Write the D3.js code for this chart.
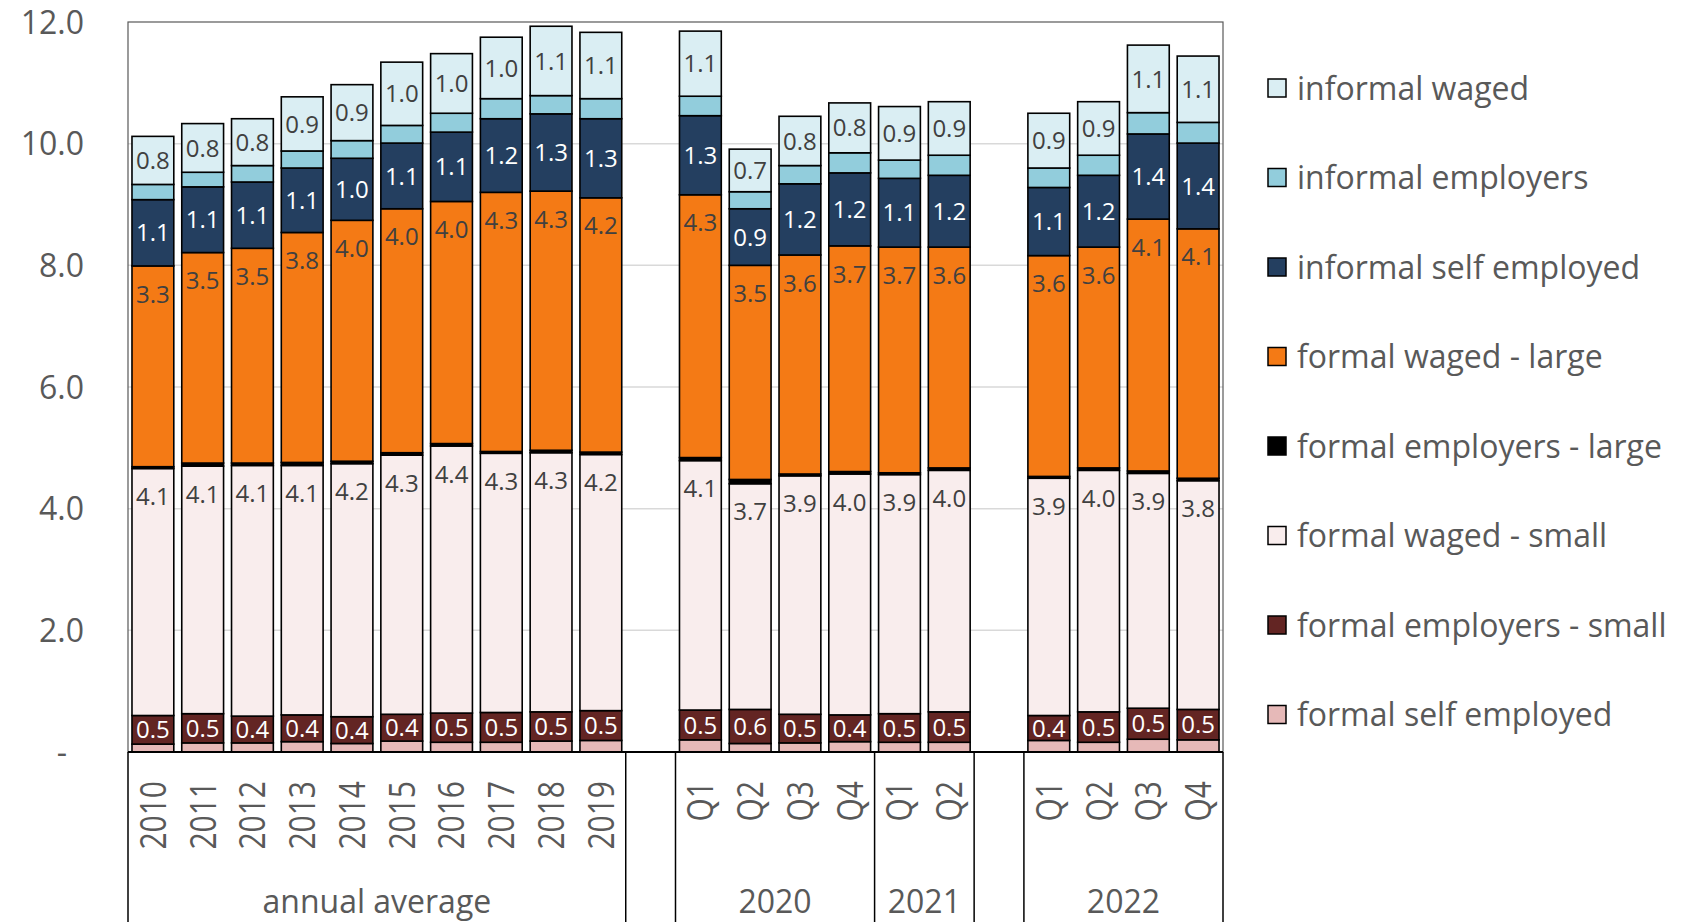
<!DOCTYPE html>
<html>
<head>
<meta charset="utf-8">
<script src="https://cdn.jsdelivr.net/npm/d3@7/dist/d3.min.js"></script>
<style>
  body { margin: 0; background: #fff; }
  svg { display: block; font-family: "Open Sans", sans-serif; }
</style>
</head>
<body>
<svg id="chart" width="1685" height="922"></svg>
<script>
// Category slots along the x axis ("" = spacer slot between groups)
const periods = ["2010","2011","2012","2013","2014","2015","2016","2017","2018","2019","",
                 "Q1","Q2","Q3","Q4","Q1","Q2","",
                 "Q1","Q2","Q3","Q4"];
const groupNames = ["annual average", "", "2020", "2021", "", "2022"];
const groupSizes = [10, 1, 4, 2, 1, 4];

// Series, bottom of the stack first
const seriesNames = ["formal self employed", "formal employers - small", "formal waged - small",
                     "formal employers - large", "formal waged - large", "informal self employed",
                     "informal employers", "informal waged"];
const seriesColors = ["#E6B9B8", "#632523", "#F9EDED", "#000000", "#F47A15", "#243F60", "#92CDDC", "#DAEEF3"];

// Values (millions), null for spacer slots
const formalSelf       = [0.13,0.15,0.15,0.17,0.14,0.18,0.16,0.16,0.18,0.19,null,0.20,0.14,0.15,0.17,0.16,0.16,null,0.19,0.16,0.21,0.20];
const formalEmpSmall   = [0.47,0.48,0.44,0.44,0.44,0.44,0.48,0.49,0.48,0.49,null,0.49,0.56,0.47,0.44,0.47,0.50,null,0.41,0.50,0.51,0.50];
const formalWagedSmall = [4.06,4.07,4.12,4.10,4.16,4.26,4.39,4.26,4.26,4.21,null,4.10,3.71,3.92,3.96,3.93,3.97,null,3.90,3.97,3.86,3.76];
const formalEmpLarge   = [0.03,0.05,0.04,0.05,0.04,0.04,0.04,0.03,0.04,0.04,null,0.05,0.07,0.03,0.04,0.03,0.04,null,0.03,0.04,0.04,0.04];
const formalWagedLarge = [3.30,3.46,3.53,3.78,3.96,4.01,3.98,4.26,4.26,4.18,null,4.32,3.52,3.60,3.71,3.71,3.63,null,3.63,3.63,4.14,4.10];
const informalSelf     = [1.09,1.08,1.09,1.06,1.02,1.08,1.14,1.21,1.27,1.30,null,1.30,0.93,1.17,1.20,1.13,1.18,null,1.12,1.18,1.40,1.41];
const informalEmp      = [0.25,0.24,0.27,0.28,0.29,0.29,0.31,0.33,0.30,0.33,null,0.32,0.28,0.30,0.33,0.30,0.33,null,0.32,0.33,0.35,0.34];
const informalWaged    = [0.79,0.80,0.77,0.89,0.92,1.04,0.98,1.01,1.14,1.09,null,1.07,0.70,0.81,0.82,0.88,0.88,null,0.90,0.88,1.11,1.09];

const yTicks = [0, 2, 4, 6, 8, 10, 12];

const seriesValues = [formalSelf, formalEmpSmall, formalWagedSmall, formalEmpLarge,
                      formalWagedLarge, informalSelf, informalEmp, informalWaged];
// which series carry a value label, and where it sits ("end" = near the top of the segment)
const labelMode = [null, "center", "end", null, "end", "center", null, "center"];
const labelColor = [null, "#FFFFFF", "#404040", null, "#404040", "#FFFFFF", null, "#404040"];

const svg = d3.select("#chart");
const plotLeft = 128, plotRight = 1223, plotTop = 22, plotBottom = 752;

const x = d3.scaleBand()
  .domain(d3.range(periods.length))
  .range([plotLeft, plotRight])
  .paddingInner(0.16)
  .paddingOuter(0.08);

const y = d3.scaleLinear().domain([0, 12]).range([plotBottom, plotTop]);

// rows for the stack layout
const rows = periods.map((p, i) => {
  const r = { idx: i, gap: seriesValues[0][i] === null };
  seriesNames.forEach((s, k) => { r[s] = seriesValues[k][i] || 0; });
  return r;
});
const stacked = d3.stack().keys(seriesNames)(rows);

// gridlines
svg.append("g")
  .selectAll("line")
  .data(yTicks.filter(t => t > 0 && t < 12))
  .join("line")
  .attr("x1", plotLeft).attr("x2", plotRight)
  .attr("y1", d => y(d)).attr("y2", d => y(d))
  .attr("stroke", "#D9D9D9").attr("stroke-width", 1.5);

// plot frame
svg.append("rect")
  .attr("x", plotLeft).attr("y", plotTop)
  .attr("width", plotRight - plotLeft).attr("height", plotBottom - plotTop)
  .attr("fill", "none").attr("stroke", "#595959").attr("stroke-width", 1.2);

// y tick labels
svg.append("g")
  .selectAll("text")
  .data(yTicks)
  .join("text")
  .attr("x", d => d === 0 ? 62 : 84)
  .attr("y", d => y(d))
  .attr("dy", "0.36em")
  .attr("text-anchor", d => d === 0 ? "middle" : "end")
  .attr("font-size", 32)
  .attr("fill", "#595959")
  .text(d => d === 0 ? "-" : d3.format(".1f")(d));

// bars
const layers = svg.append("g")
  .selectAll("g")
  .data(stacked)
  .join("g")
  .attr("fill", (d, k) => seriesColors[k]);

layers.selectAll("rect")
  .data(d => d.filter(s => !s.data.gap))
  .join("rect")
  .attr("x", d => x(d.data.idx))
  .attr("width", x.bandwidth())
  .attr("y", d => y(d[1]))
  .attr("height", d => y(d[0]) - y(d[1]))
  .attr("stroke", "#000")
  .attr("stroke-width", 1.6);

// value labels
stacked.forEach((layer, k) => {
  if (!labelMode[k]) return;
  svg.append("g")
    .selectAll("text")
    .data(layer.filter(s => !s.data.gap))
    .join("text")
    .attr("x", d => x(d.data.idx) + x.bandwidth() / 2)
    .attr("y", d => labelMode[k] === "end" ? y(d[1]) + 28 : (y(d[0]) + y(d[1])) / 2)
    .attr("dy", "0.36em")
    .attr("text-anchor", "middle")
    .attr("font-size", 24)
    .attr("fill", labelColor[k])
    .text(d => d3.format(".1f")(d[1] - d[0]));
});

// category axis line
svg.append("line")
  .attr("x1", plotLeft).attr("x2", plotRight)
  .attr("y1", plotBottom).attr("y2", plotBottom)
  .attr("stroke", "#000").attr("stroke-width", 2);

// period labels (rotated)
svg.append("g")
  .selectAll("text")
  .data(periods.map((p, i) => ({ p, i })).filter(d => d.p !== ""))
  .join("text")
  .attr("transform", d => `translate(${x(d.i) + x.bandwidth() / 2},781) scale(1.2,1) rotate(-90)`)
  .attr("dy", "0.36em")
  .attr("text-anchor", "end")
  .attr("font-size", 30)
  .attr("fill", "#595959")
  .text(d => d.p);

// group separators and group labels
const step = x.step();
let start = 0;
const bounds = [0];
groupSizes.forEach(n => { start += n; bounds.push(start); });
svg.append("g")
  .selectAll("line")
  .data(bounds)
  .join("line")
  .attr("x1", b => plotLeft + b * step).attr("x2", b => plotLeft + b * step)
  .attr("y1", plotBottom).attr("y2", 922)
  .attr("stroke", "#000").attr("stroke-width", 1.5);

svg.append("g")
  .selectAll("text")
  .data(groupNames.map((g, i) => ({ g, mid: (bounds[i] + bounds[i + 1]) / 2 })))
  .join("text")
  .attr("x", d => plotLeft + d.mid * step)
  .attr("y", 913)
  .attr("text-anchor", "middle")
  .attr("font-size", 32)
  .attr("fill", "#595959")
  .text(d => d.g);

// legend, top series first
const legendOrder = d3.range(seriesNames.length).reverse();
const legend = svg.append("g")
  .selectAll("g")
  .data(legendOrder)
  .join("g")
  .attr("transform", (k, i) => `translate(1268,${88 + i * 89.5})`);
legend.append("rect")
  .attr("x", 0).attr("y", -9)
  .attr("width", 18).attr("height", 18)
  .attr("fill", k => seriesColors[k])
  .attr("stroke", "#000").attr("stroke-width", 1.5);
legend.append("text")
  .attr("x", 29).attr("y", 0)
  .attr("dy", "0.36em")
  .attr("font-size", 32)
  .attr("fill", "#595959")
  .text(k => seriesNames[k]);
</script>
</body>
</html>
